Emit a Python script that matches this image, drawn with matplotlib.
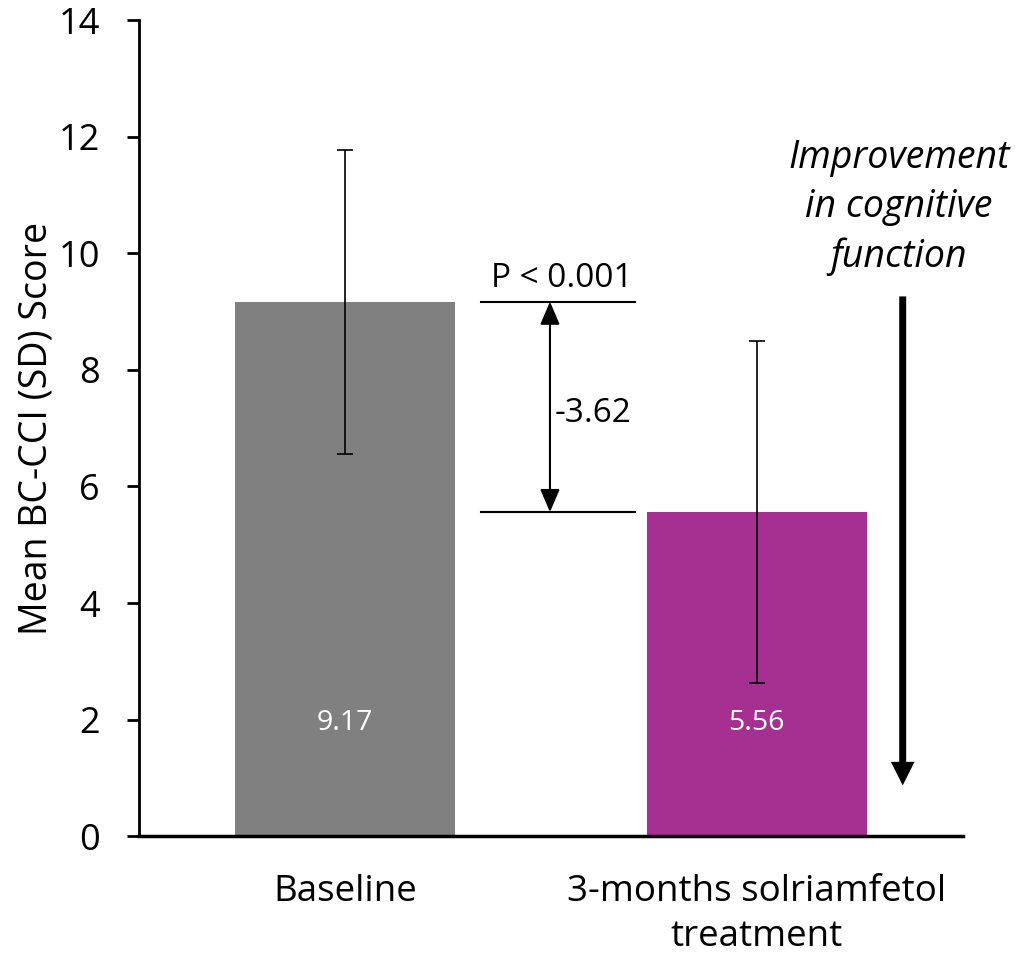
import matplotlib
matplotlib.use("Agg")
import matplotlib.pyplot as plt

categories = ["Baseline", "3-months solriamfetol\ntreatment"]
means = [9.17, 5.56]
sds = [2.61, 2.93]
value_labels = ["9.17", "5.56"]
bar_colors = ["#808080", "#A63091"]
diff_label = "-3.62"
p_label = "P < 0.001"
yticks = [0, 2, 4, 6, 8, 10, 12, 14]

plt.rcParams['font.family'] = ['Open Sans', 'DejaVu Sans']

fig = plt.figure(figsize=(10.2, 9.6), dpi=100)
ax = fig.add_axes([0.136, 0.129, 0.808, 0.850])

x = list(range(len(categories)))
ax.bar(x, means, width=0.535, color=bar_colors, zorder=2)
ax.errorbar(x, means, yerr=sds, fmt='none', ecolor='black', elinewidth=1.2,
            capsize=6, capthick=1.2, zorder=3)

for xi, m, lab in zip(x, means, value_labels):
    ax.text(xi, 1.95, lab, color='white', ha='center', va='center', fontsize=20.5)

ax.set_xlim(-0.5, 1.5)
ax.set_ylim(0, 14)
ax.set_yticks(yticks)
ax.set_xticks(x)
ax.set_xticklabels(categories, fontsize=26.5, linespacing=1.35)
ax.tick_params(axis='y', labelsize=26, length=9, width=2, direction='out', pad=19)
ax.tick_params(axis='x', length=0, pad=27)
ax.set_ylabel("Mean BC-CCI (SD) Score", fontsize=27, labelpad=2)

for s in ['top', 'right']:
    ax.spines[s].set_visible(False)
ax.spines['left'].set_linewidth(2)
ax.spines['bottom'].set_linewidth(2.5)

# significance bracket
xl, xr = 0.33, 0.704
ax.plot([xl, xr], [means[0], means[0]], color='black', lw=1.5, zorder=3)
ax.plot([xl, xr], [means[1], means[1]], color='black', lw=1.5, zorder=3)
ax.annotate("", xy=(0.498, means[1]), xytext=(0.498, means[0]),
            arrowprops=dict(arrowstyle='<|-|>,head_width=0.3,head_length=0.7',
                            color='black', lw=1.5,
                            mutation_scale=20, shrinkA=0, shrinkB=0))
ax.text(0.51, 7.26, diff_label, fontsize=24, ha='left', va='center')
ax.text(0.527, means[0] + 0.12, p_label, fontsize=24, ha='center', va='bottom')

# improvement arrow
ax.annotate("", xy=(1.354, 0.87), xytext=(1.354, 9.26),
            arrowprops=dict(width=5, headwidth=17, headlength=17,
                            facecolor='black', edgecolor='none', lw=0,
                            shrink=0))
ax.text(1.345, 10.78, "Improvement\nin cognitive\nfunction", fontsize=27,
        style='italic', ha='center', va='center', linespacing=1.38, clip_on=False)

fig.savefig("out.png", dpi=100)
